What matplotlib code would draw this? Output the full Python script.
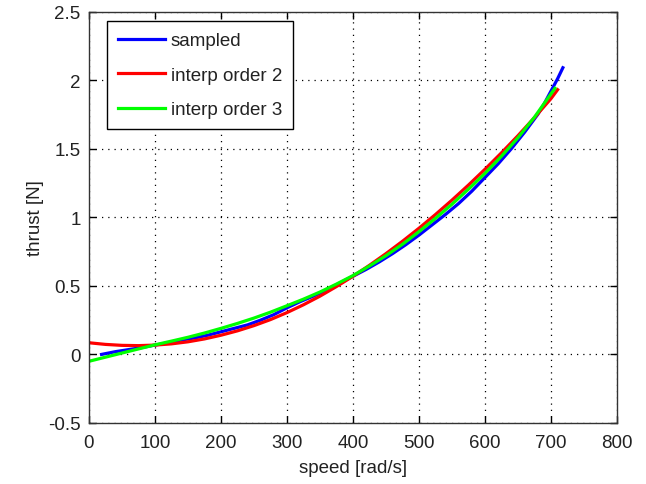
import matplotlib
matplotlib.use("Agg")
import matplotlib.pyplot as plt

plt.rcParams['font.family'] = ['Liberation Sans', 'DejaVu Sans']

# sampled data (speed rad/s, thrust N)
sampled_speed = [19, 40, 60, 80, 100, 120, 140, 160, 180, 200, 220, 240, 260, 280,
                 300, 320, 340, 360, 380, 400, 420, 440, 460, 480, 500, 520, 540,
                 560, 580, 600, 620, 640, 660, 680, 690, 700, 710, 718]
sampled_thrust = [0.00, 0.02, 0.035, 0.05, 0.068, 0.085, 0.105, 0.12, 0.14, 0.165,
                  0.19, 0.215, 0.25, 0.29, 0.34, 0.385, 0.425, 0.47, 0.52, 0.57,
                  0.62, 0.675, 0.735, 0.80, 0.87, 0.945, 1.02, 1.10, 1.19, 1.29,
                  1.39, 1.50, 1.62, 1.75, 1.83, 1.92, 2.01, 2.09]

# order-2 interpolation
interp2_speed = [0, 25, 50, 75, 100, 125, 150, 175, 200, 225, 250, 275, 300, 325, 350,
                 375, 400, 425, 450, 475, 500, 525, 550, 575, 600, 625, 650, 675, 700, 710]
interp2_thrust = [0.085, 0.073, 0.066, 0.064, 0.068, 0.077, 0.092, 0.113, 0.14, 0.172,
                  0.21, 0.254, 0.305, 0.362, 0.425, 0.495, 0.57, 0.65, 0.735, 0.825,
                  0.92, 1.02, 1.125, 1.235, 1.35, 1.47, 1.595, 1.727, 1.865, 1.93]

# order-3 interpolation
interp3_speed = [0, 25, 50, 75, 100, 125, 150, 175, 200, 225, 250, 275, 300, 325, 350,
                 375, 400, 425, 450, 475, 500, 525, 550, 575, 600, 625, 650, 675, 700, 706]
interp3_thrust = [-0.05, -0.02, 0.01, 0.04, 0.07, 0.097, 0.125, 0.156, 0.19, 0.226,
                  0.265, 0.308, 0.355, 0.403, 0.455, 0.513, 0.575, 0.645, 0.72, 0.803,
                  0.895, 0.992, 1.095, 1.205, 1.32, 1.445, 1.58, 1.73, 1.90, 1.94]

x_ticks = [0, 100, 200, 300, 400, 500, 600, 700, 800]
y_ticks = [-0.5, 0, 0.5, 1, 1.5, 2, 2.5]
y_tick_labels = ['-0.5', '0', '0.5', '1', '1.5', '2', '2.5']

fig = plt.figure(figsize=(6.46, 4.85), dpi=100)
ax = fig.add_axes([89 / 646, 1 - 424 / 485, 528 / 646, 411.5 / 485])

lw = 2.3
ax.plot(sampled_speed, sampled_thrust, color=(0, 0, 1), lw=lw, label='sampled')
ax.plot(interp2_speed, interp2_thrust, color=(1, 0, 0), lw=lw, label='interp order 2')
ax.plot(interp3_speed, interp3_thrust, color=(0, 1, 0), lw=lw, label='interp order 3')

ax.set_xlim(0, 800)
ax.set_ylim(-0.5, 2.5)
ax.set_xticks(x_ticks)
ax.set_xticklabels([str(t) for t in x_ticks])
ax.set_yticks(y_ticks)
ax.set_yticklabels(y_tick_labels)

fs = 13.5
ax.tick_params(direction='in', length=5, width=1, top=True, right=True,
               labelsize=fs, colors='black', labelcolor='#222222')
ax.tick_params(axis='x', pad=8)
ax.tick_params(axis='y', pad=6)
ax.grid(True, linestyle=(0, (1, 4)), color='black', linewidth=0.9)
for s in ax.spines.values():
    s.set_color('#333333')
    s.set_linewidth(1.0)

ax.set_xlabel('speed [rad/s]', fontsize=fs, color='#222222', labelpad=6)
ax.set_ylabel('thrust [N]', fontsize=fs, color='#222222', labelpad=3)

leg = ax.legend(loc='upper left', bbox_to_anchor=(0.034, 0.977), fontsize=fs,
                frameon=True, fancybox=False, edgecolor='black', framealpha=1,
                handlelength=2.5, handletextpad=0.3, labelspacing=0.92,
                borderpad=0.6, borderaxespad=0)
leg.get_frame().set_linewidth(1.0)
for t in leg.get_texts():
    t.set_color('#222222')

fig.savefig('out.png', dpi=100)
